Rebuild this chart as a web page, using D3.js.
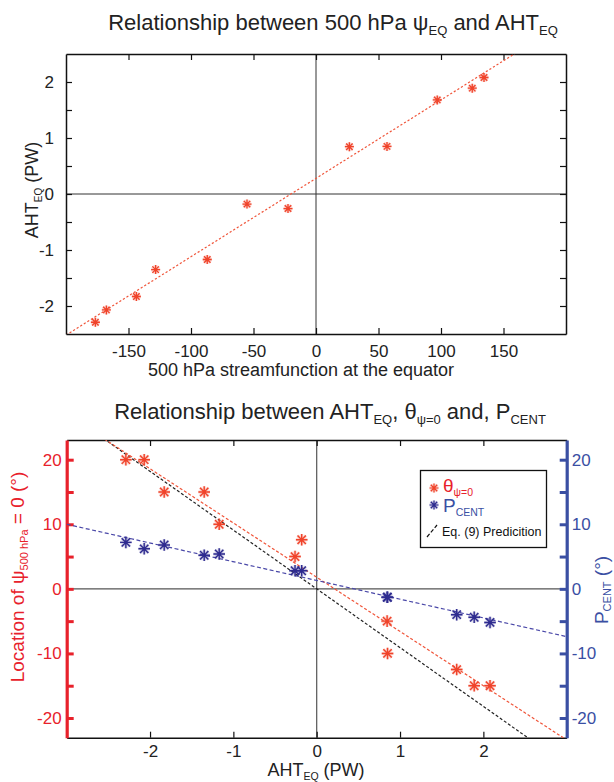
<!DOCTYPE html>
<html><head><meta charset="utf-8">
<script src="https://cdn.jsdelivr.net/npm/d3@7"></script>
<style>body{margin:0;background:#fff}svg{display:block}text{font-family:"Liberation Sans",Arial,sans-serif}</style>
</head><body>
<svg id="c" width="614" height="782"></svg>
<script>
// ---- data ----
const psiEQ   = [-176.5,-167.7,-143.7,-128.3,-87,-55.2,-22.4,26.7,56.8,97,125,134.4];
const ahtEQ   = [-2.29,-2.07,-1.83,-1.35,-1.17,-0.18,-0.26,0.845,0.85,1.68,1.89,2.08];
const thetaPsi0 = [20,20,15,15,10,7.6,5,-5,-10,-12.5,-15,-15];
const pCent   = [7.2,6.2,6.8,5.2,5.4,2.8,2.8,-1.3,-1.3,-4.0,-4.4,-5.2];
// linear fits: [slope, intercept]
const fitTop   = [0.014, 0.28];
const fitTheta = [-8.4, 1.8];
const fitPcent = [-2.9, 1.3];
const fitEq9   = [-9.1, 0];
const topXTicks = [-150,-100,-50,0,50,100,150];
const topYTicks = [-2,-1.5,-1,-0.5,0,0.5,1,1.5,2];
const topYLabels = [-2,-1,0,1,2];
const botXTicks = [-2,-1,0,1,2];
const botYTicks = [-20,-15,-10,-5,0,5,10,15,20];
const botYLabels = [-20,-10,0,10,20];

const RED="#f0432a", AXRED="#e8212b", BLUE="#2e2b8f", AXBLUE="#3a4fa3";
const svg=d3.select("#c");

function star(g,x,y,r,col,w){
  const d=r*0.72;
  const p=`M${x-r},${y}L${x+r},${y}M${x},${y-r}L${x},${y+r}M${x-d},${y-d}L${x+d},${y+d}M${x-d},${y+d}L${x+d},${y-d}`;
  g.append("path").attr("d",p).attr("stroke",col).attr("stroke-width",w+1.6).attr("stroke-opacity",0.25).attr("fill","none");
  g.append("path").attr("d",p).attr("stroke",col).attr("stroke-width",w).attr("fill","none");
}
function fitLine(g,x,y,fit,col,dash,w,clip){
  const [a,b]=x.domain();
  g.append("line").attr("clip-path",`url(#${clip})`)
   .attr("x1",x(a)).attr("y1",y(fit[0]*a+fit[1])).attr("x2",x(b)).attr("y2",y(fit[0]*b+fit[1]))
   .attr("stroke",col).attr("stroke-width",w).attr("stroke-dasharray",dash);
}
function fixMinus(g){g.selectAll(".tick text").each(function(){const t=d3.select(this);t.text(t.text().replace("−","-"));});}

// ================= TOP =================
{
const L=66,R=566,T=54,B=334;
const x=d3.scaleLinear().domain([-200,200]).range([L,R]);
const y=d3.scaleLinear().domain([-2.5,2.5]).range([B,T]);
const g=svg.append("g");
g.append("clipPath").attr("id","clipT").append("rect").attr("x",L).attr("y",T).attr("width",R-L).attr("height",B-T);
g.append("line").attr("x1",x(0)).attr("x2",x(0)).attr("y1",T).attr("y2",B).attr("stroke","#333").attr("stroke-width",1);
g.append("line").attr("x1",L).attr("x2",R).attr("y1",y(0)).attr("y2",y(0)).attr("stroke","#333").attr("stroke-width",1);
const gx=g.append("g").attr("transform",`translate(0,${B})`).call(d3.axisBottom(x).tickValues(topXTicks).tickSizeInner(-6).tickSizeOuter(0).tickPadding(11).tickFormat(d3.format("d")));
const gxt=g.append("g").attr("transform",`translate(0,${T})`).call(d3.axisTop(x).tickValues(topXTicks).tickSizeInner(-6).tickSizeOuter(0).tickFormat(""));
const gy=g.append("g").attr("transform",`translate(${L},0)`).call(d3.axisLeft(y).tickValues(topYTicks).tickSizeInner(-6).tickSizeOuter(0).tickPadding(12)
  .tickFormat(d=>topYLabels.includes(d)?d3.format("d")(d):""));
const gyr=g.append("g").attr("transform",`translate(${R},0)`).call(d3.axisRight(y).tickValues(topYTicks).tickSizeInner(-6).tickSizeOuter(0).tickFormat(""));
[gx,gxt,gy,gyr].forEach(a=>{a.select(".domain").attr("stroke","#111").attr("stroke-width",1.5);a.selectAll(".tick line").attr("stroke","#111").attr("stroke-width",1.2);a.selectAll("text").attr("font-size",17).attr("fill","#222");});
fixMinus(g);
fitLine(g,x,y,fitTop,"#f0553a","2.2,2",1.2,"clipT");
psiEQ.forEach((v,i)=>star(g,x(v),y(ahtEQ[i]),4.5,RED,1.3));
const t=svg.append("text").attr("x",333).attr("y",30).attr("text-anchor","middle").attr("font-size",22).attr("fill","#222");
t.append("tspan").text("Relationship between 500 hPa ψ");
t.append("tspan").text("EQ").attr("font-size",13).attr("dy",5);
t.append("tspan").text(" and AHT").attr("dy",-5);
t.append("tspan").text("EQ").attr("font-size",13).attr("dy",5);
svg.append("text").attr("x",301).attr("y",376).attr("text-anchor","middle").attr("font-size",18).attr("fill","#222").text("500 hPa streamfunction at the equator");
const yl=svg.append("text").attr("transform","translate(38,190) rotate(-90)").attr("text-anchor","middle").attr("font-size",18).attr("fill","#222");
yl.append("tspan").text("AHT");
yl.append("tspan").text("EQ").attr("font-size",10).attr("dy",4);
yl.append("tspan").text(" (PW)").attr("dy",-4);
}

// ================= BOTTOM =================
{
const L=66.7,R=566.7,T=440,B=737.7;
const x=d3.scaleLinear().domain([-3,3]).range([L,R]);
const y=d3.scaleLinear().domain([-23.05,23.05]).range([B,T]);
const g=svg.append("g");
g.append("clipPath").attr("id","clipB").append("rect").attr("x",L).attr("y",T).attr("width",R-L).attr("height",B-T);
g.append("line").attr("x1",x(0)).attr("x2",x(0)).attr("y1",T).attr("y2",B).attr("stroke","#555").attr("stroke-width",1.2);
g.append("line").attr("x1",L).attr("x2",R).attr("y1",y(0)).attr("y2",y(0)).attr("stroke","#555").attr("stroke-width",1.2);
const gx=g.append("g").attr("transform",`translate(0,${B})`).call(d3.axisBottom(x).tickValues(botXTicks).tickSizeInner(-6).tickSizeOuter(0).tickPadding(7).tickFormat(d3.format("d")));
const gxt=g.append("g").attr("transform",`translate(0,${T})`).call(d3.axisTop(x).tickValues(botXTicks).tickSizeInner(-6).tickSizeOuter(0).tickFormat(""));
[gx,gxt].forEach(a=>{a.select(".domain").attr("stroke","#111").attr("stroke-width",1.5);a.selectAll(".tick line").attr("stroke","#111").attr("stroke-width",1.2);a.selectAll("text").attr("font-size",17).attr("fill","#222");});
const gy=g.append("g").attr("transform",`translate(${L},0)`).call(d3.axisLeft(y).tickValues(botYTicks).tickSizeInner(-7).tickSizeOuter(0).tickPadding(5)
  .tickFormat(d=>botYLabels.includes(d)?d3.format("d")(d):""));
gy.select(".domain").attr("stroke",AXRED).attr("stroke-width",3.2);
gy.selectAll(".tick line").attr("stroke",AXRED).attr("stroke-width",3);
gy.selectAll("text").attr("font-size",17).attr("fill",AXRED);
const gyr=g.append("g").attr("transform",`translate(${R},0)`).call(d3.axisRight(y).tickValues(botYTicks).tickSizeInner(-7).tickSizeOuter(0).tickPadding(5)
  .tickFormat(d=>botYLabels.includes(d)?d3.format("d")(d):""));
gyr.select(".domain").attr("stroke",AXBLUE).attr("stroke-width",3.2);
gyr.selectAll(".tick line").attr("stroke",AXBLUE).attr("stroke-width",3);
gyr.selectAll("text").attr("font-size",17).attr("fill",AXBLUE);
fixMinus(g);

fitLine(g,x,y,fitEq9,"#222","3,2",1.2,"clipB");
fitLine(g,x,y,fitTheta,"#f0553a","3,2",1.2,"clipB");
fitLine(g,x,y,fitPcent,"#4a48a8","4,2.5",1.2,"clipB");
ahtEQ.forEach((v,i)=>star(g,x(v),y(thetaPsi0[i]),5.8,RED,1.4));
ahtEQ.forEach((v,i)=>star(g,x(v),y(pCent[i]),5.8,BLUE,1.4));

// legend
const lg=svg.append("g");
lg.append("rect").attr("x",420.5).attr("y",470.5).attr("width",126).attr("height",77).attr("fill","#fff").attr("stroke","#111").attr("stroke-width",1.3);
star(lg,434,488,4.5,RED,1.2);
star(lg,434,505,4.5,BLUE,1.2);
lg.append("line").attr("x1",427).attr("y1",537).attr("x2",437).attr("y2",525).attr("stroke","#111").attr("stroke-width",1.2).attr("stroke-dasharray","4,2");
const l1=lg.append("text").attr("x",443).attr("y",492).attr("font-size",19).attr("fill",AXRED);
l1.append("tspan").text("θ");
l1.append("tspan").text("ψ=0").attr("font-size",10.5).attr("dy",4);
const l2=lg.append("text").attr("x",443).attr("y",512).attr("font-size",19).attr("fill",AXBLUE);
l2.append("tspan").text("P");
l2.append("tspan").text("CENT").attr("font-size",10.5).attr("dy",4);
lg.append("text").attr("x",442).attr("y",536).attr("font-size",12.5).attr("fill","#111").text("Eq. (9) Predicition");

// titles/labels
const t=svg.append("text").attr("x",330).attr("y",419).attr("text-anchor","middle").attr("font-size",22).attr("fill","#222");
t.append("tspan").text("Relationship between AHT");
t.append("tspan").text("EQ").attr("font-size",13).attr("dy",5);
t.append("tspan").text(", θ").attr("dy",-5);
t.append("tspan").text("ψ=0").attr("font-size",13).attr("dy",5);
t.append("tspan").text(" and, P").attr("dy",-5);
t.append("tspan").text("CENT").attr("font-size",13).attr("dy",5);
const xl=svg.append("text").attr("x",316).attr("y",776).attr("text-anchor","middle").attr("font-size",18).attr("fill","#222");
xl.append("tspan").text("AHT");
xl.append("tspan").text("EQ").attr("font-size",10.5).attr("dy",4);
xl.append("tspan").text(" (PW)").attr("dy",-4);
const yl=svg.append("text").attr("transform","translate(24,577) rotate(-90)").attr("text-anchor","middle").attr("font-size",19).attr("fill",AXRED);
yl.append("tspan").text("Location of ψ");
yl.append("tspan").text("500 hPa").attr("font-size",11).attr("dy",4);
yl.append("tspan").text(" = 0 (°)").attr("dy",-4);
const yr=svg.append("text").attr("transform","translate(608,590) rotate(-90)").attr("text-anchor","middle").attr("font-size",19).attr("fill",AXBLUE);
yr.append("tspan").text("P");
yr.append("tspan").text("CENT").attr("font-size",11).attr("dy",3);
yr.append("tspan").text(" (°)").attr("dy",-3);
}
</script>
</body></html>
